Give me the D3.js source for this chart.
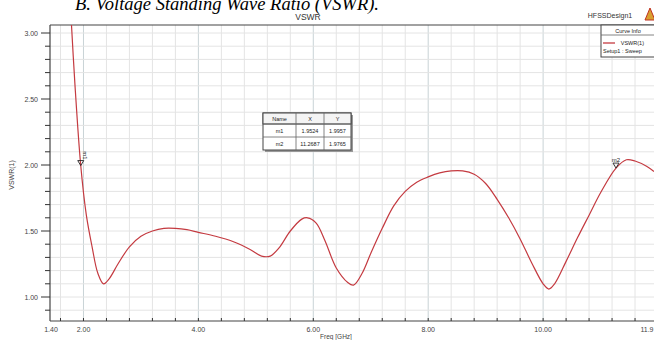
<!DOCTYPE html>
<html>
<head>
<meta charset="utf-8">
<script src="https://d3js.org/d3.v7.min.js"></script>
<style>
  body { margin: 0; background: #fff; }
  text { font-family: "Liberation Sans", Arial, sans-serif; }
</style>
</head>
<body>
<div class="vis"></div>
<script>
  // VSWR sweep
  var freq = [1.78, 1.85, 1.9524, 2.05, 2.15, 2.25, 2.35, 2.45, 2.6, 2.8, 3.0, 3.2, 3.4, 3.6, 3.8, 4.0,
    4.3, 4.6, 4.9, 5.1, 5.25, 5.4, 5.6, 5.8, 5.9, 6.05, 6.2, 6.4, 6.6, 6.7, 6.85, 7.0, 7.2, 7.4,
    7.6, 7.8, 8.0, 8.2, 8.4, 8.6, 8.8, 9.0, 9.2, 9.4, 9.6, 9.8, 10.0, 10.1, 10.2, 10.4, 10.6,
    10.8, 11.0, 11.2687, 11.45, 11.6, 11.8, 11.93];
  var vswr = [3.15, 2.62, 1.9957, 1.62, 1.38, 1.18, 1.10, 1.14, 1.25, 1.38, 1.46, 1.50, 1.52, 1.52, 1.51, 1.49,
    1.46, 1.42, 1.36, 1.31, 1.31, 1.37, 1.50, 1.59, 1.60, 1.56, 1.43, 1.22, 1.11, 1.09, 1.18, 1.33, 1.52, 1.69,
    1.80, 1.87, 1.91, 1.94, 1.955, 1.955, 1.93, 1.86, 1.74, 1.60, 1.44, 1.26, 1.10, 1.06, 1.10, 1.27, 1.45,
    1.62, 1.79, 1.9765, 2.04, 2.03, 1.99, 1.95];
  var markerNames = ['m1', 'm2'];
  var markerX = [1.9524, 11.2687];
  var markerY = [1.9957, 1.9765];
  var xTickLabels = ['1.40', '2.00', '4.00', '6.00', '8.00', '10.00', '11.9'];
  var xTickValues = [1.4, 2, 4, 6, 8, 10, 11.93];
  var yTickValues = [1.0, 1.5, 2.0, 2.5, 3.0];

  var W = 654, H = 340;
  var pLeft = 50, pRight = 654, pTop = 25, pBottom = 321;

  var svg = d3.select('.vis').append('svg')
    .attr('width', W).attr('height', H);

  var x = d3.scaleLinear().domain([1.4, 11.93]).range([pLeft - 1, pRight]);
  var y = d3.scaleLinear().domain([1.0, 3.0]).range([297, 33]);

  // caption text cut off at the top of the screenshot
  svg.append('text')
    .attr('x', 75).attr('y', 10)
    .style('font-family', '"Liberation Serif", "Times New Roman", serif')
    .style('font-style', 'italic')
    .style('font-size', '18.5px')
    .attr('fill', '#000')
    .text('B. Voltage Standing Wave Ratio (VSWR).');

  svg.append('text')
    .attr('x', 308).attr('y', 20)
    .attr('text-anchor', 'middle')
    .style('font-size', '8.5px')
    .attr('fill', '#333')
    .text('VSWR');

  svg.append('text')
    .attr('x', 610).attr('y', 18)
    .attr('text-anchor', 'middle')
    .style('font-size', '7px')
    .attr('fill', '#333')
    .text('HFSSDesign1');

  // small logo triangle
  svg.append('path')
    .attr('d', 'M645,20 L650,8 L655,20 Z')
    .attr('fill', '#d9a030')
    .attr('stroke', '#c03020')
    .attr('stroke-width', 1);

  // grid
  var grid = svg.append('g');
  var vGrid = d3.range(1.6, 11.95, 0.4).map(function (d) { return Math.round(d * 10) / 10; });
  grid.selectAll('.vg').data(vGrid).enter().append('line')
    .attr('x1', function (d) { return x(d); }).attr('x2', function (d) { return x(d); })
    .attr('y1', pTop).attr('y2', pBottom)
    .attr('stroke', function (d) { return d % 2 === 0 ? '#c9d3d6' : '#e4e4e4'; })
    .attr('stroke-width', 1);
  var hGrid = d3.range(0.9, 3.05, 0.1).map(function (d) { return Math.round(d * 10) / 10; });
  grid.selectAll('.hg').data(hGrid).enter().append('line')
    .attr('x1', pLeft).attr('x2', pRight)
    .attr('y1', function (d) { return y(d); }).attr('y2', function (d) { return y(d); })
    .attr('stroke', '#e4e4e4')
    .attr('stroke-width', 1);

  // frame
  svg.append('line').attr('x1', pLeft).attr('x2', pRight).attr('y1', pTop).attr('y2', pTop)
    .attr('stroke', '#444').attr('stroke-width', 1.2);
  svg.append('line').attr('x1', pLeft).attr('x2', pLeft).attr('y1', pTop).attr('y2', pBottom)
    .attr('stroke', '#444').attr('stroke-width', 1.2);
  svg.append('line').attr('x1', pLeft).attr('x2', pRight).attr('y1', pBottom).attr('y2', pBottom)
    .attr('stroke', '#444').attr('stroke-width', 1.2);

  // y ticks
  var yMinor = d3.range(0.9, 3.05, 0.1).map(function (d) { return Math.round(d * 10) / 10; });
  svg.selectAll('.ytk').data(yMinor).enter().append('line')
    .attr('x1', function (d) { return yTickValues.indexOf(d) >= 0 ? pLeft - 9 : pLeft - 5; })
    .attr('x2', pLeft)
    .attr('y1', function (d) { return y(d); }).attr('y2', function (d) { return y(d); })
    .attr('stroke', '#333').attr('stroke-width', 1);
  svg.selectAll('.ytl').data(yTickValues).enter().append('text')
    .attr('x', pLeft - 12).attr('y', function (d) { return y(d) + 2.5; })
    .attr('text-anchor', 'end')
    .style('font-size', '7px')
    .attr('fill', '#444')
    .text(function (d) { return d3.format('.2f')(d); });

  svg.append('text')
    .attr('transform', 'translate(14,' + 175 + ') rotate(-90)')
    .attr('text-anchor', 'middle')
    .style('font-size', '7px')
    .attr('fill', '#444')
    .text('VSWR(1)');

  // x ticks
  svg.selectAll('.xtk').data(vGrid).enter().append('line')
    .attr('x1', function (d) { return x(d); }).attr('x2', function (d) { return x(d); })
    .attr('y1', pBottom - 3).attr('y2', pBottom)
    .attr('stroke', '#333').attr('stroke-width', 1);
  svg.selectAll('.xtl').data(xTickValues).enter().append('text')
    .attr('x', function (d, i) { return i === xTickValues.length - 1 ? W - 0.5 : x(d); })
    .attr('y', 332)
    .attr('text-anchor', function (d, i) { return i === xTickValues.length - 1 ? 'end' : 'middle'; })
    .attr('dx', function (d, i) { return i === 0 ? 2 : 0; })
    .style('font-size', '7px')
    .attr('fill', '#444')
    .text(function (d, i) { return xTickLabels[i]; });

  svg.append('text')
    .attr('x', 336).attr('y', 339)
    .attr('text-anchor', 'middle')
    .style('font-size', '6.5px')
    .attr('fill', '#444')
    .text('Freq [GHz]');

  // curve
  svg.append('clipPath').attr('id', 'plotclip')
    .append('rect').attr('x', pLeft).attr('y', pTop)
    .attr('width', pRight - pLeft).attr('height', pBottom - pTop);

  var pts = freq.map(function (f, i) { return [f, vswr[i]]; });
  var line = d3.line()
    .x(function (d) { return x(d[0]); })
    .y(function (d) { return y(d[1]); })
    .curve(d3.curveCatmullRom.alpha(0.5));
  svg.append('path')
    .attr('clip-path', 'url(#plotclip)')
    .attr('d', line(pts))
    .attr('fill', 'none')
    .attr('stroke', '#c43a40')
    .attr('stroke-width', 1.2);

  // markers
  markerNames.forEach(function (name, i) {
    var mx = x(markerX[i]), my = y(markerY[i]);
    svg.append('path')
      .attr('d', 'M' + (mx - 3) + ',' + (my - 5) + ' L' + (mx + 3) + ',' + (my - 5) + ' L' + mx + ',' + my + ' Z')
      .attr('fill', 'none').attr('stroke', '#222').attr('stroke-width', 0.9);
    if (i === 0) {
      svg.append('text')
        .attr('transform', 'translate(' + (mx + 2.5) + ',' + (my - 6) + ') rotate(90)')
        .attr('text-anchor', 'end')
        .style('font-size', '6px').attr('fill', '#222')
        .text(name);
    } else {
      svg.append('text')
        .attr('x', mx).attr('y', my - 6)
        .attr('text-anchor', 'middle')
        .style('font-size', '6px').attr('fill', '#222')
        .text(name);
    }
  });

  // marker table
  var tb = svg.append('g').attr('transform', 'translate(263,113)');
  var colX = [0, 33, 61, 88];
  var rowY = [0, 11, 24, 37];
  tb.append('rect').attr('x', 2).attr('y', 2).attr('width', 88).attr('height', 37).attr('fill', '#999');
  tb.append('rect').attr('x', 0).attr('y', 0).attr('width', 88).attr('height', 37)
    .attr('fill', '#fff').attr('stroke', '#444').attr('stroke-width', 1);
  tb.append('rect').attr('x', 0).attr('y', 0).attr('width', 88).attr('height', 11).attr('fill', '#f4f4f4')
    .attr('stroke', '#444');
  [1, 2].forEach(function (c) {
    tb.append('line').attr('x1', colX[c]).attr('x2', colX[c]).attr('y1', 0).attr('y2', 37)
      .attr('stroke', '#666').attr('stroke-width', 0.8);
  });
  [1, 2].forEach(function (r) {
    tb.append('line').attr('x1', 0).attr('x2', 88).attr('y1', rowY[r]).attr('y2', rowY[r])
      .attr('stroke', '#666').attr('stroke-width', 0.8);
  });
  var rows = [['Name', 'X', 'Y']].concat(markerNames.map(function (n, i) {
    return [n, d3.format('.4f')(markerX[i]), d3.format('.4f')(markerY[i])];
  }));
  rows.forEach(function (r, ri) {
    r.forEach(function (t, ci) {
      tb.append('text')
        .attr('x', (colX[ci] + colX[ci + 1]) / 2)
        .attr('y', (rowY[ri] + rowY[ri + 1]) / 2 + 2.2)
        .attr('text-anchor', 'middle')
        .style('font-size', '5.5px').attr('fill', '#222')
        .text(t);
    });
  });

  // legend
  var lg = svg.append('g').attr('transform', 'translate(601,25)');
  lg.append('rect').attr('x', 0).attr('y', 0).attr('width', 60).attr('height', 32)
    .attr('fill', '#fff').attr('stroke', '#444').attr('stroke-width', 1);
  lg.append('line').attr('x1', 0).attr('x2', 60).attr('y1', 10).attr('y2', 10)
    .attr('stroke', '#666').attr('stroke-width', 0.8);
  lg.append('text').attr('x', 27).attr('y', 7.5).attr('text-anchor', 'middle')
    .style('font-size', '5.5px').attr('fill', '#222').text('Curve Info');
  lg.append('line').attr('x1', 2).attr('x2', 14).attr('y1', 18).attr('y2', 18)
    .attr('stroke', '#c43a40').attr('stroke-width', 1.3);
  lg.append('text').attr('x', 43).attr('y', 20).attr('text-anchor', 'end')
    .style('font-size', '5.5px').attr('fill', '#222').text('VSWR(1)');
  lg.append('text').attr('x', 2).attr('y', 27.5)
    .style('font-size', '5.5px').attr('fill', '#222').text('Setup1 : Sweep');
</script>
</body>
</html>
